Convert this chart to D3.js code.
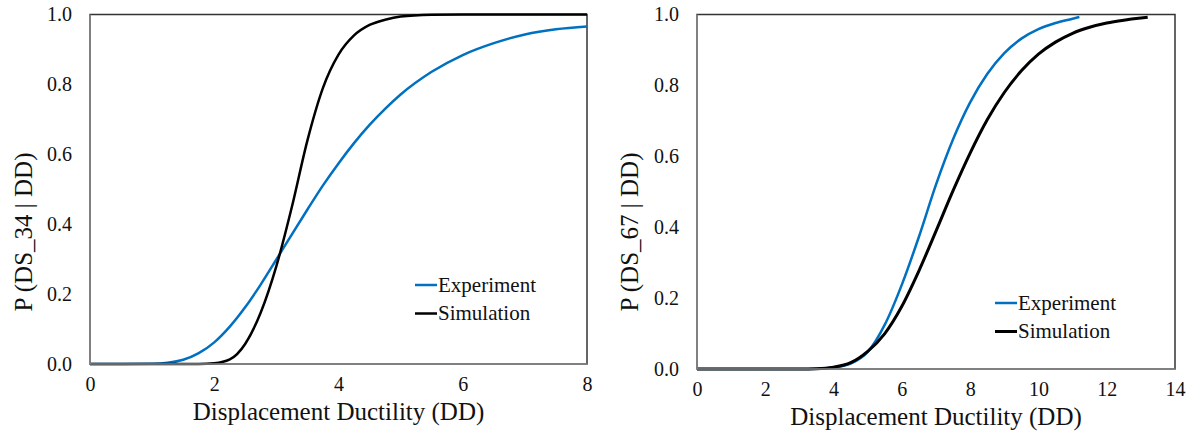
<!DOCTYPE html>
<html>
<head>
<meta charset="utf-8">
<script src="https://cdn.jsdelivr.net/npm/d3@7"></script>
<style>
  body { margin: 0; background: #fff; }
  svg text { font-family: "Liberation Serif", "Times New Roman", serif; fill: #111; }
  .tick text { font-size: 20px; }
</style>
</head>
<body>
<script>
// Data // --------------------------------------------------------------------
// left panel: P(DS_34 | DD)
var ddLeft = [0, 0.5, 1, 1.25, 1.5, 1.75, 2, 2.25, 2.5, 2.75, 3, 3.25, 3.5, 3.75, 4, 4.25, 4.5, 4.75, 5, 5.5, 6, 6.5, 7, 7.5, 8];
var expLeft = [0, 0, 0.0006, 0.0034, 0.012, 0.031, 0.062, 0.107, 0.163, 0.228, 0.299, 0.371, 0.442, 0.511, 0.574, 0.632, 0.684, 0.73, 0.771, 0.836, 0.884, 0.918, 0.943, 0.958, 0.966];
var simLeft = [0, 0, 0, 0, 0, 0, 0.002, 0.013, 0.058, 0.148, 0.28, 0.45, 0.64, 0.79, 0.885, 0.94, 0.97, 0.985, 0.994, 0.999, 1, 1, 1, 1, 1];

// right panel: P(DS_67 | DD)
var ddRightExp = [0, 1, 2, 3, 3.5, 4, 4.5, 5, 5.5, 6, 6.5, 7, 7.5, 8, 8.5, 9, 9.5, 10, 10.5, 11, 11.2];
var expRight = [0, 0, 0, 0, 0.0005, 0.004, 0.015, 0.048, 0.125, 0.238, 0.373, 0.52, 0.648, 0.752, 0.832, 0.891, 0.932, 0.959, 0.976, 0.988, 0.993];
var ddRightSim = [0, 1, 2, 3, 3.5, 4, 4.5, 5, 5.5, 6, 6.5, 7, 7.5, 8, 8.5, 9, 9.5, 10, 10.5, 11, 11.5, 12, 12.5, 13, 13.2];
var simRight = [0, 0, 0, 0.0001, 0.0007, 0.005, 0.018, 0.05, 0.1, 0.177, 0.277, 0.389, 0.503, 0.609, 0.703, 0.78, 0.841, 0.888, 0.922, 0.947, 0.964, 0.976, 0.984, 0.99, 0.992];

var yTicks = [0, 0.2, 0.4, 0.6, 0.8, 1.0];
var xTicksLeft = [0, 2, 4, 6, 8];
var xTicksRight = [0, 2, 4, 6, 8, 10, 12, 14];
var seriesNames = ["Experiment", "Simulation"];
var seriesColors = ["#0070C0", "#000000"];

var svg = d3.select("body").append("svg")
            .attr("width", 1194)
            .attr("height", 440);

function zip(xs, ys) {
    return xs.map(function(x, i) { return {dd: x, p: ys[i]}; });
}

// draws one panel
function drawPanel(cfg) {
    var x = d3.scaleLinear().domain(cfg.xDomain).range([cfg.left, cfg.right]),
        y = d3.scaleLinear().domain([0, 1]).range([cfg.bottom, cfg.top]);

    var g = svg.append("g");

    // plot frame (top/right darker, axes grey)
    g.append("rect")
     .attr("x", cfg.left).attr("y", cfg.top)
     .attr("width", cfg.right - cfg.left).attr("height", cfg.bottom - cfg.top)
     .attr("fill", "none").attr("stroke", "#333").attr("stroke-width", 1.5);

    var line = d3.line()
                 .x(function(d) { return x(d.dd); })
                 .y(function(d) { return y(d.p); })
                 .curve(d3.curveMonotoneX);

    cfg.series.forEach(function(s, i) {
        g.append("path")
         .datum(s)
         .attr("d", line)
         .attr("fill", "none")
         .attr("stroke", seriesColors[i])
         .attr("stroke-width", cfg.widths[i]);
    });

    // axes lines
    g.append("line")
     .attr("x1", cfg.left).attr("x2", cfg.left)
     .attr("y1", cfg.top).attr("y2", cfg.bottom)
     .attr("stroke", "#8a8a8a").attr("stroke-width", 1.5);
    g.append("line")
     .attr("x1", cfg.left).attr("x2", cfg.right)
     .attr("y1", cfg.bottom).attr("y2", cfg.bottom)
     .attr("stroke", "#8a8a8a").attr("stroke-width", 1.5);

    g.append("g")
     .attr("transform", "translate(" + cfg.left + ",0)")
     .call(d3.axisLeft(y)
             .tickValues(yTicks)
             .tickFormat(d3.format(".1f"))
             .tickSize(0)
             .tickPadding(18))
     .attr("font-family", null).attr("font-size", null)
     .call(function(a) { a.select(".domain").remove(); });

    g.append("g")
     .attr("transform", "translate(0," + cfg.bottom + ")")
     .call(d3.axisBottom(x)
             .tickValues(cfg.xTicks)
             .tickSize(0)
             .tickPadding(13))
     .attr("font-family", null).attr("font-size", null)
     .call(function(a) { a.select(".domain").remove(); });

    // axis titles
    g.append("text")
     .attr("x", (cfg.left + cfg.right) / 2)
     .attr("y", cfg.bottom + 56)
     .attr("text-anchor", "middle")
     .style("font-size", "25px")
     .text("Displacement Ductility (DD)");

    g.append("text")
     .attr("transform", "translate(" + cfg.yTitleX + ",232) rotate(-90)")
     .attr("text-anchor", "middle")
     .style("font-size", "25px")
     .text(cfg.yTitle);

    // legend
    seriesNames.forEach(function(n, i) {
        var ly = cfg.legendY + i * 28.5;
        g.append("line")
         .attr("x1", cfg.legendX).attr("x2", cfg.legendX + 22)
         .attr("y1", ly).attr("y2", ly)
         .attr("stroke", seriesColors[i]).attr("stroke-width", cfg.widths[i]);
        g.append("text")
         .attr("x", cfg.legendX + 23).attr("y", ly)
         .attr("dy", "0.33em")
         .style("font-size", "21px")
         .text(n);
    });
}

drawPanel({
    left: 90, right: 587, top: 14.5, bottom: 364,
    xDomain: [0, 8], xTicks: xTicksLeft,
    series: [zip(ddLeft, expLeft), zip(ddLeft, simLeft)],
    widths: [2.5, 2.5],
    yTitle: "P (DS_34 | DD)", yTitleX: 32,
    legendX: 415, legendY: 285
});

drawPanel({
    left: 697, right: 1175, top: 14.5, bottom: 369,
    xDomain: [0, 14], xTicks: xTicksRight,
    series: [zip(ddRightExp, expRight), zip(ddRightSim, simRight)],
    widths: [2.5, 3],
    yTitle: "P (DS_67 | DD)", yTitleX: 638,
    legendX: 995, legendY: 303
});
</script>
</body>
</html>
